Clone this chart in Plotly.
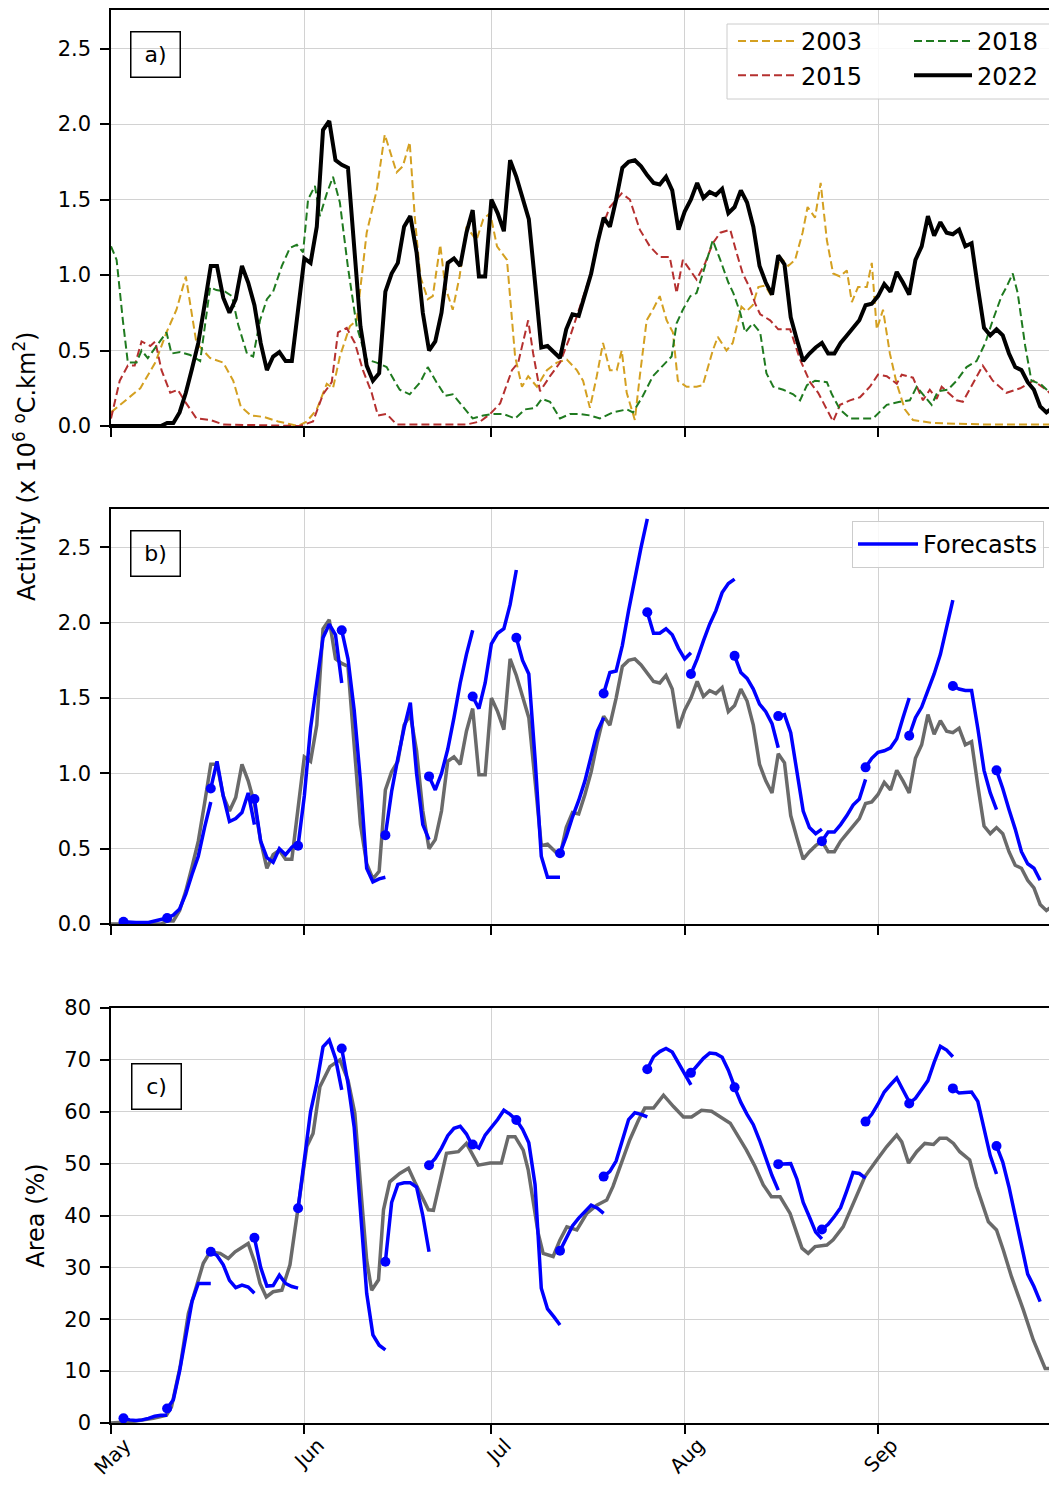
import pandas as pd
import plotly.graph_objects as go

BASE = pd.Timestamp("2022-05-01")
X_END_DAYS = 151.7

MONTH_TICKS = ["2022-05-01", "2022-06-01", "2022-07-01", "2022-08-01", "2022-09-01"]
MONTH_LABELS = ["May", "Jun", "Jul", "Aug", "Sep"]
ACT_TICKS = [0.0, 0.5, 1.0, 1.5, 2.0, 2.5]
AREA_TICKS = [0, 10, 20, 30, 40, 50, 60, 70, 80]

# ---- 2022 activity (daily, day 0 = 1 May) ----
ACT_2022 = [0, 0, 0, 0, 0, 0, 0, 0, 0,
            0.02, 0.02, 0.09, 0.22, 0.38, 0.55, 0.80, 1.06, 1.06, 0.85, 0.75,
            0.84, 1.06, 0.95, 0.80, 0.55, 0.37, 0.46, 0.49, 0.43, 0.43,
            0.75, 1.11, 1.08, 1.32, 1.96, 2.02, 1.76, 1.73, 1.71, 1.20,
            0.66, 0.40, 0.30, 0.35, 0.89, 1.01, 1.08, 1.32, 1.39, 1.15,
            0.75, 0.50, 0.56, 0.75, 1.08, 1.11, 1.06, 1.28, 1.43, 0.99,
            0.99, 1.50, 1.41, 1.29, 1.76, 1.65, 1.50, 1.37, 0.95, 0.52,
            0.53, 0.49, 0.45, 0.64, 0.74, 0.73, 0.86, 1.01, 1.21, 1.38,
            1.32, 1.50, 1.71, 1.75, 1.76, 1.72, 1.66, 1.61, 1.60, 1.65,
            1.56, 1.30, 1.42, 1.50, 1.61, 1.51, 1.55, 1.53, 1.57, 1.41,
            1.45, 1.56, 1.48, 1.32, 1.06, 0.95, 0.87, 1.13, 1.07, 0.72,
            0.57, 0.43, 0.48, 0.52, 0.55, 0.48, 0.48, 0.55, 0.60, 0.65,
            0.70, 0.80, 0.81, 0.86, 0.94, 0.89, 1.02, 0.95, 0.87, 1.10,
            1.19, 1.39, 1.26, 1.35, 1.28, 1.27, 1.30, 1.19, 1.21, 0.92,
            0.65, 0.60, 0.64, 0.60, 0.48, 0.39, 0.37, 0.29, 0.24, 0.13,
            0.09, 0.12, 0.14]

# ---- other years (day offset, activity) ----
Y2003 = [(0, 0.09), (4.7, 0.25), (7.1, 0.42), (8.9, 0.62), (10.5, 0.77), (12.0, 0.99),
         (13.7, 0.55), (15.9, 0.45), (18.0, 0.42), (19.6, 0.30), (20.8, 0.13), (22.4, 0.07),
         (24.5, 0.06), (26.8, 0.03), (30.0, 0.0), (31.4, 0.03), (33.0, 0.11), (34.6, 0.28),
         (35.6, 0.25), (36.7, 0.46), (38.3, 0.66), (39.4, 0.70), (40.4, 1.06), (41.0, 1.28),
         (42.6, 1.56), (43.9, 1.93), (45.8, 1.68), (46.8, 1.72), (47.9, 1.88), (48.7, 1.39),
         (49.6, 0.99), (50.8, 0.84), (51.6, 0.86), (52.8, 1.20), (53.6, 0.92), (54.8, 0.77),
         (55.9, 0.99), (57.0, 1.32), (58.6, 1.23), (59.7, 1.37), (60.8, 1.41), (61.9, 1.19),
         (63.5, 1.10), (64.8, 0.46), (65.9, 0.26), (66.9, 0.33), (68.3, 0.26), (69.9, 0.37),
         (71.5, 0.42), (73.1, 0.44), (74.7, 0.37), (75.7, 0.30), (76.8, 0.12), (77.9, 0.33),
         (78.9, 0.55), (80.0, 0.37), (81.1, 0.37), (81.9, 0.50), (82.7, 0.22), (84.0, 0.04),
         (84.8, 0.33), (85.9, 0.70), (86.9, 0.77), (88.0, 0.86), (89.1, 0.70), (90.1, 0.62),
         (90.9, 0.30), (92.3, 0.26), (93.9, 0.26), (94.9, 0.27), (96.5, 0.50), (97.3, 0.59),
         (98.7, 0.50), (99.7, 0.55), (101.1, 0.79), (101.9, 0.76), (102.9, 0.80), (103.8, 0.92),
         (104.9, 0.93), (105.9, 0.86), (107.3, 1.12), (108.6, 1.06), (109.7, 1.10), (110.9, 1.28),
         (111.7, 1.45), (112.9, 1.38), (113.8, 1.61), (114.8, 1.23), (115.8, 1.01), (116.9, 0.99),
         (118.0, 1.03), (118.8, 0.82), (119.8, 0.92), (121.2, 0.92), (122.0, 1.08), (122.8, 0.64),
         (123.8, 0.77), (124.9, 0.48), (126.0, 0.28), (127.3, 0.11), (128.6, 0.04), (131.8, 0.02),
         (140.0, 0.01), (151.7, 0.01)]

Y2015 = [(0, 0.05), (1.4, 0.30), (2.7, 0.40), (3.8, 0.40), (4.9, 0.56), (6.3, 0.53), (7.1, 0.56),
         (8.1, 0.37), (9.5, 0.22), (10.7, 0.24), (11.9, 0.16), (13.7, 0.05), (15.9, 0.04),
         (18.0, 0.01), (30.3, 0.0), (32.4, 0.03), (34.0, 0.21), (35.4, 0.29), (36.4, 0.62),
         (37.8, 0.65), (39.1, 0.55), (40.4, 0.37), (41.8, 0.22), (42.8, 0.07), (44.2, 0.08),
         (45.8, 0.01), (57.0, 0.01), (59.2, 0.03), (60.8, 0.08), (62.4, 0.15), (64.3, 0.37),
         (65.3, 0.42), (66.9, 0.70), (67.7, 0.48), (68.8, 0.23), (70.4, 0.33), (72.0, 0.42),
         (73.6, 0.59), (75.2, 0.79), (76.8, 0.99), (78.4, 1.28), (80.0, 1.45), (81.9, 1.54),
         (83.2, 1.50), (84.8, 1.30), (86.4, 1.19), (88.0, 1.12), (89.6, 1.12), (90.7, 0.88),
         (91.7, 1.10), (92.9, 1.03), (93.9, 0.97), (95.3, 1.08), (96.5, 1.21), (97.7, 1.28),
         (99.3, 1.30), (100.3, 1.15), (101.3, 1.01), (102.5, 0.91), (103.3, 0.81), (104.1, 0.74),
         (105.7, 0.70), (107.0, 0.64), (108.9, 0.64), (110.5, 0.44), (112.1, 0.29), (113.4, 0.22),
         (114.8, 0.11), (115.8, 0.03), (116.9, 0.14), (118.5, 0.17), (120.1, 0.19), (121.7, 0.26),
         (123.0, 0.34), (124.4, 0.33), (126.0, 0.28), (126.8, 0.34), (128.6, 0.32), (130.2, 0.17),
         (131.3, 0.24), (132.4, 0.18), (133.2, 0.26), (134.2, 0.22), (135.6, 0.17), (136.6, 0.16),
         (138.2, 0.28), (139.8, 0.40), (141.4, 0.30), (143.6, 0.22), (145.8, 0.25), (147.9, 0.30),
         (150.0, 0.24), (151.7, 0.17)]

Y2018 = [(0, 1.19), (0.9, 1.10), (1.9, 0.70), (2.7, 0.42), (4.1, 0.42), (4.9, 0.50), (5.9, 0.45),
         (7.3, 0.53), (8.9, 0.62), (9.7, 0.48), (11.1, 0.49), (12.7, 0.47), (14.3, 0.43),
         (15.9, 0.92), (16.9, 0.90), (18.3, 0.89), (19.4, 0.86), (20.4, 0.67), (21.8, 0.48),
         (22.8, 0.46), (23.9, 0.70), (25.0, 0.84), (26.0, 0.89), (27.4, 1.06), (28.7, 1.18),
         (29.8, 1.20), (30.8, 1.15), (31.6, 1.50), (32.7, 1.59), (33.5, 1.39), (34.6, 1.54),
         (35.6, 1.65), (36.7, 1.48), (38.0, 1.05), (39.4, 0.66), (41.0, 0.44), (42.6, 0.42),
         (44.2, 0.39), (46.3, 0.24), (47.9, 0.21), (49.6, 0.29), (50.8, 0.39), (52.2, 0.29),
         (53.6, 0.20), (54.8, 0.21), (56.4, 0.13), (58.0, 0.05), (59.7, 0.07), (61.3, 0.08),
         (62.9, 0.08), (64.8, 0.05), (66.4, 0.11), (68.0, 0.12), (69.1, 0.18), (70.4, 0.16),
         (72.0, 0.05), (73.6, 0.08), (75.2, 0.08), (76.8, 0.07), (78.4, 0.05), (80.5, 0.09),
         (82.7, 0.11), (83.7, 0.09), (85.3, 0.20), (86.9, 0.33), (88.5, 0.40), (89.9, 0.46),
         (90.7, 0.68), (91.7, 0.77), (92.9, 0.86), (93.9, 0.88), (94.9, 1.01), (96.5, 1.23),
         (97.7, 1.10), (99.0, 0.95), (99.8, 0.88), (100.9, 0.75), (101.7, 0.62), (102.9, 0.68),
         (104.1, 0.62), (105.1, 0.35), (106.2, 0.26), (107.8, 0.24), (109.4, 0.21), (110.5, 0.17),
         (111.6, 0.27), (112.9, 0.30), (114.8, 0.29), (115.6, 0.21), (116.9, 0.11), (118.5, 0.05),
         (120.6, 0.05), (122.2, 0.05), (124.4, 0.14), (126.5, 0.16), (128.1, 0.17), (129.2, 0.26),
         (130.2, 0.21), (131.6, 0.14), (132.6, 0.23), (134.2, 0.24), (135.6, 0.30), (137.2, 0.39),
         (138.8, 0.43), (140.2, 0.55), (141.4, 0.70), (142.8, 0.86), (143.6, 0.92), (144.6, 1.01),
         (145.4, 0.88), (146.6, 0.53), (147.6, 0.30), (149.0, 0.28), (150.6, 0.22), (151.7, 0.17)]

# ---- 2022 area (day offset, %) ----
AREA_2022 = [(0, 0), (3.5, 0.3), (6.8, 0.9), (8.9, 1.5), (9.7, 3.1), (11.1, 10.9), (12.4, 21.1),
             (13.7, 26.3), (14.8, 30.8), (15.9, 33.0), (17.5, 32.7), (18.8, 31.7), (19.9, 33.0),
             (22.0, 34.6), (23.1, 30.8), (23.9, 26.9), (24.9, 24.3), (26.0, 25.3), (27.4, 25.6),
             (28.7, 30.5), (29.5, 37.2), (30.3, 43.0), (31.4, 53.3), (32.4, 55.8), (33.5, 64.8),
             (35.1, 68.7), (36.7, 70.0), (38.0, 66.1), (39.1, 59.7), (40.2, 43.0), (41.0, 31.4),
             (41.8, 25.6), (42.9, 27.6), (43.7, 41.1), (44.7, 46.5), (46.3, 48.1), (47.7, 49.1),
             (48.7, 46.5), (50.9, 41.1), (51.7, 41.0), (52.8, 46.8), (53.8, 52.0), (55.7, 52.3),
             (57.0, 53.9), (58.9, 49.7), (60.8, 50.1), (62.6, 50.1), (63.7, 55.2), (64.8, 55.2),
             (66.1, 52.6), (66.9, 48.8), (67.7, 43.0), (68.5, 36.6), (69.3, 32.7), (70.9, 32.1),
             (72.0, 35.3), (73.1, 37.8), (74.7, 37.2), (76.3, 40.4), (77.9, 42.0), (79.5, 43.0),
             (80.5, 45.6), (81.9, 50.1), (83.2, 54.6), (84.6, 58.4), (85.6, 60.7), (87.0, 60.7),
             (88.6, 63.2), (90.2, 61.0), (91.8, 59.0), (93.1, 59.0), (94.7, 60.3), (96.3, 60.1),
             (97.7, 59.0), (99.3, 57.8), (100.6, 55.2), (101.9, 52.6), (103.3, 49.4), (104.6, 45.9),
             (105.9, 43.6), (107.3, 43.6), (108.9, 40.4), (110.0, 36.6), (110.8, 33.7), (111.8, 32.7),
             (112.9, 34.0), (114.8, 34.3), (115.8, 35.3), (117.4, 37.8), (119.0, 42.3), (120.9, 47.5),
             (122.8, 50.7), (124.4, 53.3), (126.0, 55.5), (126.8, 54.2), (127.9, 50.1), (129.2, 52.3),
             (130.5, 53.9), (131.9, 53.7), (132.9, 54.9), (134.0, 54.9), (135.1, 53.9), (136.1, 52.3),
             (137.7, 50.7), (138.8, 45.6), (140.7, 38.8), (142.0, 37.2), (143.1, 33.3), (144.4, 28.2),
             (146.3, 21.8), (147.9, 16.0), (149.8, 10.5), (151.7, 10.5)]

# ---- weekly forecasts: start day, then 8 daily values ----
FC_START = [2, 9, 16, 23, 30, 37, 44, 51, 58, 65, 72, 79, 86, 93, 100, 107, 114, 121, 128, 135, 142]

FC_ACT = [
    [0.015, 0.01, 0.01, 0.01, 0.01, 0.02, 0.03, 0.04],
    [0.04, 0.06, 0.10, 0.20, 0.33, 0.45, 0.64, 0.81],
    [0.90, 1.08, 0.85, 0.68, 0.70, 0.74, 0.87, 0.66],
    [0.83, 0.55, 0.44, 0.41, 0.50, 0.46, 0.51, 0.54],
    [0.52, 0.85, 1.30, 1.62, 1.90, 1.99, 1.92, 1.60],
    [1.95, 1.76, 1.42, 0.95, 0.37, 0.28, 0.30, 0.31],
    [0.59, 0.88, 1.10, 1.30, 1.47, 1.00, 0.66, 0.56],
    [0.98, 0.89, 1.00, 1.16, 1.37, 1.60, 1.79, 1.95],
    [1.51, 1.43, 1.60, 1.86, 1.93, 1.96, 2.12, 2.35],
    [1.90, 1.75, 1.66, 1.10, 0.45, 0.31, 0.31, 0.31],
    [0.47, 0.58, 0.71, 0.82, 0.95, 1.11, 1.28, 1.37],
    [1.53, 1.67, 1.68, 1.85, 2.08, 2.30, 2.50, 2.69],
    [2.07, 1.93, 1.93, 1.96, 1.92, 1.83, 1.76, 1.80],
    [1.66, 1.76, 1.88, 1.99, 2.08, 2.20, 2.26, 2.29],
    [1.78, 1.67, 1.63, 1.56, 1.46, 1.41, 1.33, 1.17],
    [1.38, 1.39, 1.27, 1.00, 0.75, 0.64, 0.60, 0.63],
    [0.55, 0.61, 0.61, 0.66, 0.72, 0.79, 0.83, 0.96],
    [1.04, 1.10, 1.14, 1.15, 1.17, 1.23, 1.37, 1.50],
    [1.25, 1.37, 1.44, 1.55, 1.66, 1.79, 1.96, 2.15],
    [1.58, 1.56, 1.55, 1.55, 1.30, 1.02, 0.87, 0.76],
    [1.02, 0.90, 0.76, 0.63, 0.48, 0.40, 0.37, 0.29],
]

FC_AREA = [
    [0.9, 0.6, 0.5, 0.6, 0.9, 1.3, 1.5, 1.5],
    [2.8, 4.5, 10.0, 16.5, 23.5, 26.9, 26.9, 26.9],
    [33.0, 32.3, 30.5, 27.5, 26.1, 26.6, 26.2, 25.0],
    [35.7, 30.0, 26.4, 26.5, 28.5, 26.9, 26.3, 26.0],
    [41.4, 51.0, 60.0, 65.5, 72.5, 73.8, 70.3, 64.2],
    [72.2, 65.5, 57.0, 40.0, 25.0, 17.0, 15.0, 14.1],
    [31.1, 42.5, 46.0, 46.3, 46.3, 45.5, 40.0, 33.0],
    [49.7, 51.0, 53.0, 55.4, 56.8, 57.2, 55.7, 53.3],
    [53.7, 53.0, 55.5, 57.0, 58.5, 60.3, 59.5, 58.4],
    [58.4, 56.6, 54.0, 46.0, 26.0, 22.0, 20.5, 18.9],
    [33.2, 35.5, 38.0, 39.5, 40.8, 42.0, 41.4, 40.4],
    [47.5, 48.5, 50.5, 54.5, 58.5, 59.8, 59.5, 59.0],
    [68.2, 70.6, 71.6, 72.2, 71.5, 69.5, 67.5, 65.2],
    [67.5, 69.0, 70.3, 71.3, 71.2, 70.5, 68.0, 64.8],
    [64.7, 61.8, 59.5, 57.5, 54.5, 51.0, 47.7, 44.9],
    [49.9, 50.0, 50.0, 47.0, 42.5, 39.7, 36.8, 35.5],
    [37.3, 38.3, 39.8, 41.5, 44.8, 48.3, 48.1, 47.2],
    [58.1, 59.5, 61.5, 63.8, 65.2, 66.5, 64.2, 61.9],
    [61.6, 62.6, 64.3, 66.0, 69.5, 72.6, 71.9, 70.6],
    [64.5, 63.6, 63.7, 63.8, 62.0, 56.5, 51.5, 48.0],
    [53.4, 50.3, 45.5, 40.0, 34.0, 28.7, 26.3, 23.4],
]


def to_dates(days):
    return [BASE + pd.Timedelta(days=float(d)) for d in days]


def split(pairs):
    return to_dates([p[0] for p in pairs]), [p[1] for p in pairs]


def forecast_xy(starts, segs):
    xs, ys = [], []
    for s, seg in zip(starts, segs):
        xs += to_dates([s + i for i in range(len(seg))]) + [None]
        ys += list(seg) + [None]
    return xs, ys


FONT = "DejaVu Sans, Arial, sans-serif"
GRID = "#d2d2d2"
GRAY = "#6a6a6a"
BLUE = "#0000ff"
DASH = "8px,4px"

fig = go.Figure()

# Panel a
x, y = split(Y2003)
fig.add_trace(go.Scatter(x=x, y=y, mode="lines", name="2003", legend="legend",
                         line=dict(color="#d4a021", width=2, dash=DASH), xaxis="x", yaxis="y"))
x, y = split(Y2015)
fig.add_trace(go.Scatter(x=x, y=y, mode="lines", name="2015", legend="legend",
                         line=dict(color="#b5302f", width=2, dash=DASH), xaxis="x", yaxis="y"))
x, y = split(Y2018)
fig.add_trace(go.Scatter(x=x, y=y, mode="lines", name="2018", legend="legend2",
                         line=dict(color="#1f7a1f", width=2, dash=DASH), xaxis="x", yaxis="y"))
d2022 = to_dates(range(len(ACT_2022)))
fig.add_trace(go.Scatter(x=d2022, y=ACT_2022, mode="lines", name="2022", legend="legend2",
                         line=dict(color="black", width=4), xaxis="x", yaxis="y"))

# Panel b
fig.add_trace(go.Scatter(x=d2022, y=ACT_2022, mode="lines", showlegend=False,
                         line=dict(color=GRAY, width=3.5), xaxis="x2", yaxis="y2"))
fx, fy = forecast_xy(FC_START, FC_ACT)
fig.add_trace(go.Scatter(x=fx, y=fy, mode="lines", name="Forecasts", legend="legend3",
                         line=dict(color=BLUE, width=3.5), xaxis="x2", yaxis="y2"))
fig.add_trace(go.Scatter(x=to_dates(FC_START), y=[s[0] for s in FC_ACT], mode="markers",
                         showlegend=False, marker=dict(color=BLUE, size=10),
                         xaxis="x2", yaxis="y2"))

# Panel c
x, y = split(AREA_2022)
fig.add_trace(go.Scatter(x=x, y=y, mode="lines", showlegend=False,
                         line=dict(color=GRAY, width=3.5), xaxis="x3", yaxis="y3"))
fx, fy = forecast_xy(FC_START, FC_AREA)
fig.add_trace(go.Scatter(x=fx, y=fy, mode="lines", showlegend=False,
                         line=dict(color=BLUE, width=3.5), xaxis="x3", yaxis="y3"))
fig.add_trace(go.Scatter(x=to_dates(FC_START), y=[s[0] for s in FC_AREA], mode="markers",
                         showlegend=False, marker=dict(color=BLUE, size=10),
                         xaxis="x3", yaxis="y3"))

# ---- layout (page body has an 8 px margin; keep page within 1057x1490) ----
BODY = 8
W, H = 1057 - BODY, 1490 - 2 * BODY
PLOT_L, PLOT_R, PLOT_T, PLOT_B = 111, 1057, 10, 1423      # absolute page pixels
ML, MT = PLOT_L - BODY, PLOT_T - BODY
MR = (BODY + W) - PLOT_R
MB = (BODY + H) - PLOT_B
PW, PH = PLOT_R - PLOT_L, PLOT_B - PLOT_T


def py(p):  # absolute pixel y -> paper
    return (PLOT_B - p) / PH


def px(p):  # absolute pixel x -> paper
    return (p - PLOT_L) / PW


xrange_ = [BASE, BASE + pd.Timedelta(days=X_END_DAYS)]
tickvals = [pd.Timestamp(t) for t in MONTH_TICKS]

common_x = dict(type="date", range=xrange_, tickvals=tickvals, ticktext=MONTH_LABELS,
                ticks="outside", ticklen=9, tickwidth=1.5, tickcolor="black",
                showline=True, linecolor="black", linewidth=1.5, mirror=True,
                showgrid=True, gridcolor=GRID, gridwidth=1.2, zeroline=False, automargin=False,
                tickfont=dict(size=20, color="black", family=FONT))
common_y = dict(ticks="outside", ticklen=9, tickwidth=1.5, tickcolor="black",
                showline=True, linecolor="black", linewidth=1.5, mirror=True,
                showgrid=True, gridcolor=GRID, gridwidth=1.2, zeroline=False, automargin=False,
                ticklabelstandoff=5,
                tickfont=dict(size=21, color="black", family=FONT))

act_text = [f"{v:.1f}" for v in ACT_TICKS]
area_text = [str(v) for v in AREA_TICKS]

fig.update_layout(
    width=W, height=H,
    margin=dict(l=ML, r=MR, t=MT, b=MB, autoexpand=False),
    paper_bgcolor="white", plot_bgcolor="white",
    font=dict(family=FONT, color="black"),
    xaxis=dict(common_x, anchor="y", showticklabels=False),
    xaxis2=dict(common_x, anchor="y2", showticklabels=False),
    xaxis3=dict(common_x, anchor="y3", showticklabels=True, tickangle=-45,
                ticklabelshift=14, ticklabelstandoff=-8),
    yaxis=dict(common_y, anchor="x", domain=[py(426), 1.0], range=[0, 2.755],
               tickvals=ACT_TICKS, ticktext=act_text),
    yaxis2=dict(common_y, anchor="x2", domain=[py(924), py(509)], range=[0, 2.755],
                tickvals=ACT_TICKS, ticktext=act_text),
    yaxis3=dict(common_y, anchor="x3", domain=[0, py(1008)], range=[0, 80],
                tickvals=AREA_TICKS, ticktext=area_text,
                title=dict(text="Area (%)", font=dict(size=24, family=FONT), standoff=13)),
    legend=dict(x=px(733), y=py(19), xanchor="left", yanchor="top",
                bgcolor="rgba(0,0,0,0)", borderwidth=0, itemwidth=58,
                font=dict(size=24, family=FONT)),
    legend2=dict(x=px(909), y=py(19), xanchor="left", yanchor="top",
                 bgcolor="rgba(0,0,0,0)", borderwidth=0, itemwidth=58,
                 font=dict(size=24, family=FONT)),
    legend3=dict(x=px(852), y=py(521), xanchor="left", yanchor="top",
                 bgcolor="rgba(255,255,255,0.85)", bordercolor="#cccccc", borderwidth=1,
                 itemwidth=60, font=dict(size=24, family=FONT)),
    shapes=[dict(type="rect", xref="paper", yref="paper",
                 x0=px(727), x1=px(1052), y0=py(99), y1=py(24),
                 line=dict(color="#cccccc", width=1), fillcolor="rgba(255,255,255,0.85)",
                 layer="above")],
)

box = dict(showarrow=False, xanchor="left", yanchor="top", bordercolor="black",
           borderwidth=1.5, borderpad=6, width=36, height=32,
           font=dict(size=22, family=FONT, color="black"))
fig.add_annotation(box, text="a)", xref="x domain", yref="y domain", x=0.020, y=0.9495)
fig.add_annotation(box, text="b)", xref="x2 domain", yref="y2 domain", x=0.020, y=0.949)
fig.add_annotation(box, text="c)", xref="x3 domain", yref="y3 domain", x=0.021, y=0.867)

fig.add_annotation(text="Activity (x 10<sup>6</sup> <sup>o</sup>C.km<sup>2</sup>)",
                   xref="paper", yref="paper", x=px(25), y=py(467),
                   xanchor="center", yanchor="middle", textangle=-90, showarrow=False,
                   font=dict(size=24, family=FONT, color="black"))

fig.write_html("out.html")
